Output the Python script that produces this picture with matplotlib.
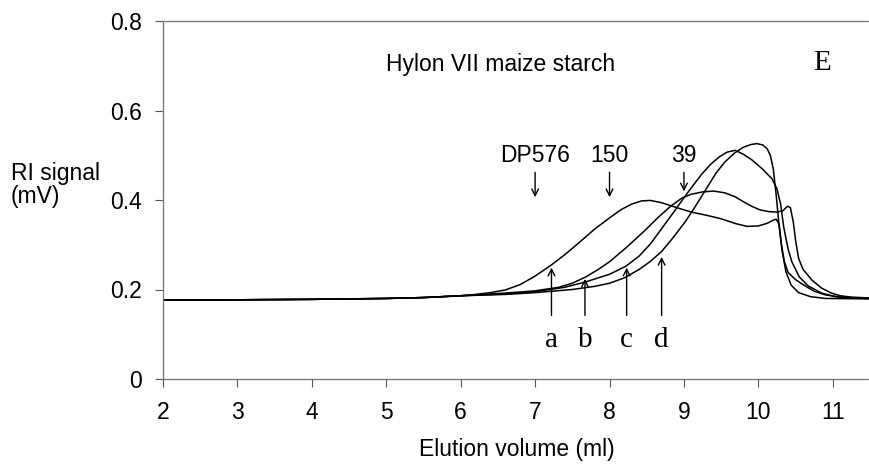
import matplotlib
matplotlib.use("Agg")
import matplotlib.pyplot as plt

# chromatogram values (elution volume ml, RI signal mV)
base_x = [2.0, 3.0, 4.0, 5.0, 5.5, 6.0]
base_y = [0.176, 0.177, 0.178, 0.180, 0.182, 0.186]

a_x = [6.2, 6.4, 6.6, 6.8, 7.0, 7.22, 7.4, 7.6, 7.8, 8.0, 8.15, 8.3, 8.43, 8.55, 8.7, 8.9, 9.1, 9.3, 9.5,
       9.7, 9.85, 10.0, 10.12, 10.2, 10.24, 10.28, 10.31, 10.35, 10.4, 10.5, 10.6, 10.75, 10.9, 11.1, 11.34, 11.5]
a_y = [0.189, 0.193, 0.199, 0.211, 0.230, 0.255, 0.278, 0.306, 0.335, 0.360, 0.378, 0.391, 0.398, 0.399, 0.394, 0.383, 0.373, 0.366, 0.358,
       0.347, 0.341, 0.342, 0.348, 0.355, 0.357, 0.345, 0.300, 0.262, 0.238, 0.222, 0.211, 0.196, 0.188, 0.183, 0.181, 0.180]

b_x = [6.6, 7.0, 7.32, 7.5, 7.68, 7.85, 8.0, 8.22, 8.45, 8.66, 8.82, 8.97, 9.1, 9.25, 9.4, 9.55, 9.69, 9.8, 9.91, 10.02,
       10.14, 10.25, 10.33, 10.39, 10.43, 10.47, 10.5, 10.54, 10.6, 10.72, 10.85, 10.98, 11.1, 11.25, 11.5]
b_y = [0.192, 0.197, 0.205, 0.214, 0.228, 0.245, 0.262, 0.293, 0.328, 0.362, 0.386, 0.404, 0.413, 0.418, 0.420, 0.416, 0.407, 0.396, 0.386, 0.378,
       0.374, 0.373, 0.376, 0.386, 0.383, 0.350, 0.310, 0.270, 0.245, 0.221, 0.203, 0.192, 0.186, 0.183, 0.181]

c_x = [6.6, 7.0, 7.4, 7.68, 8.0, 8.22, 8.4, 8.55, 8.7, 8.85, 9.0, 9.12, 9.24, 9.36, 9.48, 9.58, 9.69, 9.8, 9.91, 10.05,
       10.18, 10.25, 10.3, 10.34, 10.4, 10.45, 10.55, 10.67, 10.85, 11.03, 11.25, 11.5]
c_y = [0.190, 0.195, 0.205, 0.217, 0.234, 0.252, 0.275, 0.302, 0.336, 0.370, 0.405, 0.432, 0.458, 0.480, 0.497, 0.507, 0.511, 0.502, 0.490, 0.470,
       0.448, 0.425, 0.390, 0.340, 0.290, 0.262, 0.228, 0.208, 0.192, 0.184, 0.181, 0.180]

d_x = [6.6, 7.0, 7.5, 7.8, 8.0, 8.2, 8.4, 8.55, 8.7, 8.85, 9.02, 9.15, 9.3, 9.43, 9.55, 9.68, 9.8, 9.9, 9.98, 10.06,
       10.12, 10.16, 10.2, 10.24, 10.28, 10.32, 10.37, 10.44, 10.54, 10.7, 10.9, 11.5]
d_y = [0.189, 0.193, 0.200, 0.207, 0.214, 0.226, 0.245, 0.263, 0.285, 0.315, 0.352, 0.385, 0.425, 0.460, 0.485, 0.505, 0.518, 0.524, 0.526, 0.523,
       0.514, 0.500, 0.470, 0.410, 0.340, 0.285, 0.240, 0.210, 0.193, 0.184, 0.180, 0.179]

# DP markers (down arrows) and curve labels (up arrows)
dp_labels = ["DP576", "150", "39"]
dp_x = [7.0, 8.0, 9.0]
dp_tip = [0.40, 0.40, 0.413]

curve_labels = ["a", "b", "c", "d"]
curve_arrow_x = [7.22, 7.67, 8.23, 8.70]
curve_arrow_tip = [0.255, 0.230, 0.255, 0.279]

sans = ["Liberation Sans", "DejaVu Sans"]
serif = ["Liberation Serif", "DejaVu Serif"]

fig = plt.figure(figsize=(8.7, 4.76), dpi=100)
ax = fig.add_axes([163 / 870, 1 - 379 / 476, 1 - 163 / 870, (379 - 21) / 476])

for xs, ys in [(a_x, a_y), (b_x, b_y), (c_x, c_y), (d_x, d_y)]:
    ax.plot(base_x + xs, base_y + ys, color="black", lw=1.1,
            solid_joinstyle="round", solid_capstyle="round")

for lab, x, tip in zip(dp_labels, dp_x, dp_tip):
    ax.annotate("", xy=(x, tip), xytext=(x, 0.468),
                arrowprops=dict(arrowstyle="->", color="black", lw=1.0, mutation_scale=12))
    ax.text(x, 0.50, lab, ha="center", va="center", fontsize=16.5, family=sans)

for lab, x, tip in zip(curve_labels, curve_arrow_x, curve_arrow_tip):
    ax.annotate("", xy=(x, tip), xytext=(x, 0.136),
                arrowprops=dict(arrowstyle="->", color="black", lw=1.0, mutation_scale=12))
    ax.text(x, 0.088, lab, ha="center", va="center", fontsize=21, family=serif)

ax.text(5.0, 0.702, "Hylon VII maize starch", ha="left", va="center", fontsize=16.5, family=sans)
ax.text(10.85, 0.706, "E", ha="center", va="center", fontsize=21, family=serif)

ax.set_xlim(2, 11.5)
ax.set_ylim(0, 0.8)
ax.set_xticks(range(2, 12))
ax.set_yticks([0, 0.2, 0.4, 0.6, 0.8])
ax.set_yticklabels(["0", "0.2", "0.4", "0.6", "0.8"])
for lbl in ax.get_xticklabels() + ax.get_yticklabels():
    lbl.set_family(sans)
    lbl.set_fontsize(16.5)
ax.tick_params(direction="out", length=6, width=0.8, color="#555555")
ax.tick_params(axis="x", pad=10)
ax.tick_params(axis="y", pad=9)

for side in ["top", "left", "bottom"]:
    ax.spines[side].set_color("#777777")
    ax.spines[side].set_linewidth(0.9)
    ax.spines[side].set_linestyle((0, (1, 0.6)))
ax.spines["right"].set_visible(False)

ax.set_xlabel("Elution volume (ml)", fontsize=16.5, family=sans, labelpad=10)
fig.text(11 / 870, 1 - 185 / 476, "RI signal\n(mV)", ha="left", va="center",
         fontsize=16.5, family=sans, linespacing=1.05)

fig.savefig("out.png", dpi=100)
